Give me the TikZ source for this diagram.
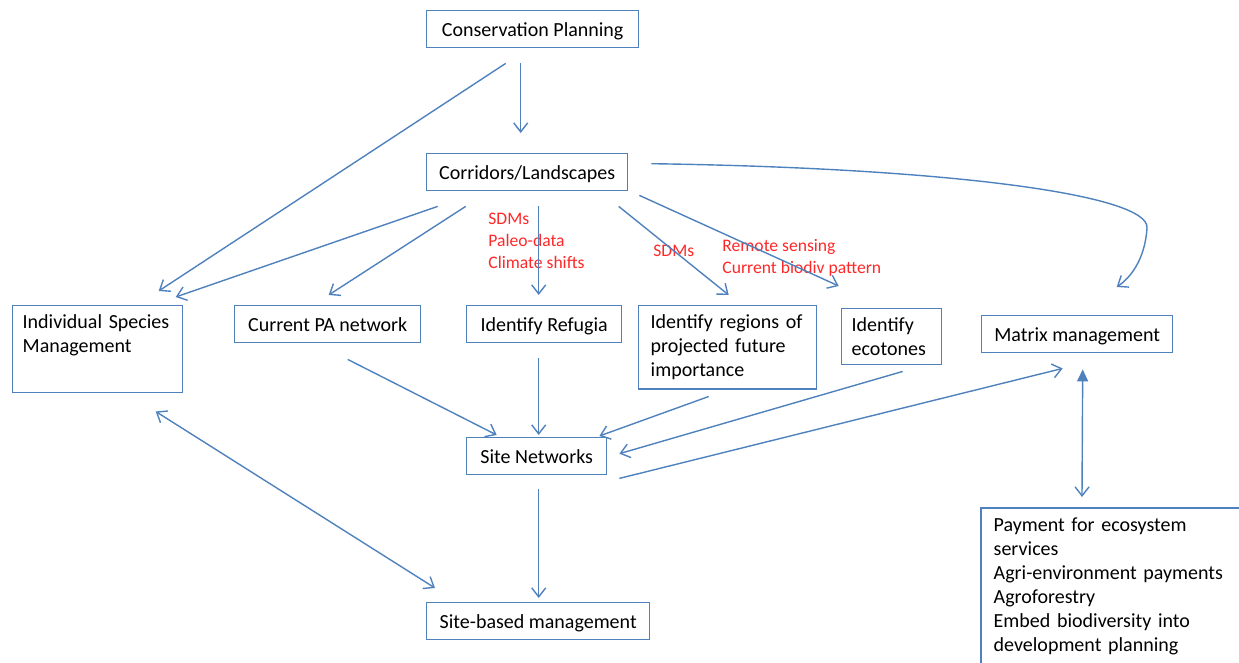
\documentclass[tikz,border=0pt]{standalone}
\usepackage{fontspec}
\setmainfont{Carlito}
\usetikzlibrary{arrows.meta,calc}
\definecolor{lineblue}{RGB}{79,129,189}
\definecolor{notered}{RGB}{255,40,40}
\begin{document}
\begin{tikzpicture}[x=.5pt,y=-.5pt,
	box/.style={draw=lineblue,line width=.7pt,anchor=north west,inner xsep=6pt,inner ysep=4.5pt,font=\fontsize{10}{12}\selectfont},
	onebox/.style={box,minimum height=18.5pt,text height=8.5pt,text depth=1pt},
	manybox/.style={box,align=left},
	note/.style={anchor=north west,align=left,text=notered,inner sep=0pt,font=\fontsize{8.8}{11}\selectfont},
	link/.style={draw=lineblue,line width=.7pt,-{Straight Barb[length=4.5pt,width=7pt]}}]
	\clip (0,0) rectangle (1239,663);
	
	\node[onebox,minimum width=106pt] (cons) at (426,10) {Conservation Planning};
	\node[onebox,minimum width=100.5pt] (corr) at (426,153) {Corridors/Landscapes};
	
	\node[manybox,inner xsep=5pt,text width=75pt] (indiv) at (12,305) {Individual Species\\Management\\\strut};
	\node[onebox,minimum width=93pt] (cpa) at (234,305) {Current PA network};
	\node[onebox,minimum width=77.5pt] (refug) at (466,305) {Identify Refugia};
	\node[manybox,text width=77pt] (regions) at (638,305) {Identify regions of\\projected future\\importance};
	\node[manybox,inner xsep=5pt,text width=40pt] (ecot) at (841,308) {Identify\\ecotones};
	\node[onebox,minimum width=95.5pt] (matrix) at (981,315) {Matrix management};
	
	\node[onebox,minimum width=70pt] (sitenet) at (466,437) {Site Networks};
	\node[onebox,minimum width=111.5pt] (sitebased) at (426,602) {Site-based management};
	% box runs off the page on the right and at the bottom
	\node[manybox,draw=none,text width=170pt] (payment) at (981,508) {Payment for ecosystem\\services\\Agri-environment payments\\Agroforestry\\Embed biodiversity into\\development planning};
	\draw[lineblue,line width=.7pt] (payment.south west) |- (payment.north east);
	
	% notes on the arrows
	\node[note] (refugnote) at (488,213) {SDMs\\Paleo-data\\Climate shifts};
	\node[note] (regionnote) at (653,245) {SDMs};
	\node[note] (ecotnote) at (722,238.5) {Remote sensing\\Current biodiv pattern};
	
	\draw[link] ($(cons.south)+(-27,15)$) -- ($(indiv.north)+(61,-14)$);
	\draw[link] ($(cons.south)+(-12,15)$) -- ($(corr.north)+(-6.5,-20)$);
	
	\draw[link] ($(corr.south)+(-89.5,15)$) -- ($(indiv.north)+(78,-8)$);
	\draw[link] ($(corr.south)+(-61.5,15)$) -- ($(cpa.north)+(1,-10)$);
	\draw[link] ($(corr.south)+(11.5,15)$) -- ($(refug.north)+(-5.5,-10)$);
	\draw[link] ($(corr.south)+(91.5,15)$) -- ($(regions.north)+(1,-10)$);
	\draw[link] ($(corr.south east)+(11,4)$) -- ($(ecot.north)+(-53,-22)$);
	\draw[link] ($(corr.east)+(23,-8.5)$) .. controls (950,168) and (1150,195) .. (1147,228)
		.. controls (1145,260) and (1130,278) .. ($(matrix.north)+(39.5,-28)$);
	
	\draw[link] ($(cpa.south)+(20,16)$) -- ($(sitenet.north)+(-40,-2)$);
	\draw[link] ($(refug.south)+(-5.5,15)$) -- ($(sitenet.north)+(2,-2)$);
	\draw[link] ($(regions.south)+(-19,7)$) -- ($(sitenet.north east)+(-8,-1)$);
	\draw[link] ($(ecot.south)+(11,6)$) -- ($(sitenet.east)+(12,-2.5)$);
	\draw[link] ($(sitenet.south east)+(12,3)$) -- ($(matrix.south)+(-14.5,15)$);
	\draw[link,{Straight Barb[length=4.5pt,width=7pt]}-{Triangle[length=6pt,width=5.5pt]}] ($(payment.north west)+(101,-11)$) -- ($(matrix.south)+(5.5,16)$);
	
	\draw[link,{Straight Barb[length=4.5pt,width=7pt]}-{Straight Barb[length=4.5pt,width=7pt]}] ($(indiv.south)+(58,18)$) -- ($(sitebased.north west)+(9,-14)$);
	\draw[link] ($(sitenet.south)+(2,14)$) -- ($(sitebased.north)+(0.5,-4)$);
\end{tikzpicture}
\end{document}
